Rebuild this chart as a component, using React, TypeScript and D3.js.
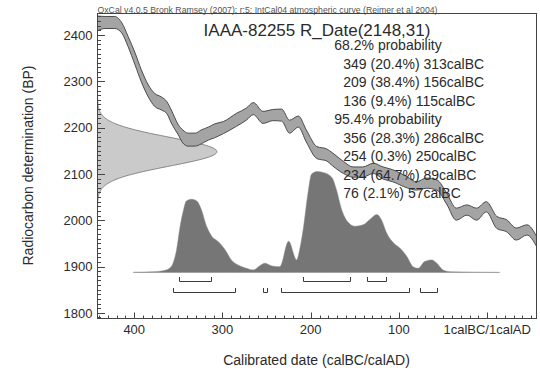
import React from "react";
import * as d3 from "d3";

// ---- Text content ----
const headerText =
  "OxCal v4.0.5 Bronk Ramsey (2007); r:5; IntCal04 atmospheric curve (Reimer et al 2004)";
const sampleName = "IAAA-82255 R_Date(2148,31)";
const rDateMean = 2148;
const rDateSigma = 31;

// ---- Calibration curve (IntCal04): calendar year BC, radiocarbon age BP, 1σ error ----
const curveYears = [
  442, 433, 422, 414, 407, 399, 392, 384, 377, 369, 363, 358, 350, 345, 339, 331, 324, 316, 309,
  299, 284, 273, 265, 254, 243, 233, 224, 214, 205, 193, 182, 175, 163, 152, 141, 129, 118, 107,
  91, 80, 69, 57, 46, 35, 23, 12, 1, -11, -22, -33, -45, -56,
];
const curveBP = [
  2425, 2427, 2427, 2415, 2386, 2348, 2312, 2279, 2260, 2252, 2243, 2224, 2195, 2181, 2174, 2174,
  2180, 2187, 2193, 2200, 2217, 2229, 2241, 2222, 2227, 2227, 2202, 2213, 2182, 2146, 2141, 2131,
  2114, 2104, 2104, 2112, 2102, 2096, 2082, 2074, 2080, 2076, 2047, 2013, 2022, 2013, 2029, 1995,
  1988, 1970, 1979, 1954,
];
const curveErr = [
  16, 13, 13, 11, 11, 13, 13, 13, 14, 14, 13, 14, 11, 14, 14, 14, 15, 14, 15, 13, 14, 13, 13, 13,
  12, 13, 14, 12, 13, 13, 13, 14, 13, 11, 11, 11, 13, 13, 12, 9, 11, 11, 12, 13, 11, 13, 11, 13,
  13, 13, 11, 11,
];

// ---- Calibrated probability distribution (relative to peak = 100) ----
const postYears = [
  401, 378, 367, 360, 356, 352, 348, 344, 341, 335, 329, 324, 318, 312, 305, 297, 290, 280, 273,
  265, 258, 252, 244, 235, 225, 216, 212, 208, 203, 199, 193, 186, 176, 171, 165, 157, 150, 140,
  133, 125, 120, 114, 106, 99, 91, 84, 78, 71, 63, 57, 50, 42, -14,
];
const postDensity = [
  0.3, 0.8, 1.8, 4.2, 9.2, 22.5, 45.8, 62.5, 70.8, 72.5, 70.8, 62.5, 45.8, 35.8, 30.8, 22.5, 12.5,
  6.5, 4.2, 2.5, 6.5, 9.2, 6.5, 5.8, 31, 12.5, 25, 45.8, 79.2, 97.5, 100, 99.2, 94.2, 82.5, 62.5,
  49.2, 45.8, 47.5, 52.5, 57.5, 52.5, 39.2, 29.2, 24.2, 15.8, 5.8, 4.2, 10.8, 12.5, 9.2, 2.5, 0.8,
  0.2,
];

// ---- Calibrated ranges ----
const range68From = [349, 209, 136];
const range68To = [313, 156, 115];
const range68Pct = ["20.4", "38.4", "9.4"];
const range95From = [356, 254, 234, 76];
const range95To = [286, 250, 89, 57];
const range95Pct = ["28.3", "0.3", "64.7", "2.1"];

// ---- Axis ticks ----
const xMajorTicks = [400, 300, 200, 100, 0];
const yMajorTicks = [1800, 1900, 2000, 2100, 2200, 2300, 2400];

const W = 540;
const H = 371;
const L = 97.5;
const R = 536.5;
const T = 13.5;
const B = 318.5;
const FONT = "'Liberation Sans', Arial, Helvetica, sans-serif";
const TEXT = "#2b2b2b";
const AXIS = "#444";

export default function App() {
  const x = d3.scaleLinear().domain([442.2, -56]).range([97, 536.6]);
  const y = d3.scaleLinear().domain([1800, 2400]).range([312.8, 35]);
  const yPost = d3.scaleLinear().domain([0, 100]).range([272.5, 171.6]);
  const likeW = d3.scaleLinear().domain([0, 1]).range([0, 119.4]);

  const idx = d3.range(curveYears.length);
  const band = d3
    .area<number>()
    .x((i) => x(curveYears[i]))
    .y0((i) => y(curveBP[i] - curveErr[i]))
    .y1((i) => y(curveBP[i] + curveErr[i]))
    .curve(d3.curveMonotoneX)(idx) as string;

  const pIdx = d3.range(postYears.length);
  const post = d3
    .area<number>()
    .x((i) => x(postYears[i]))
    .y0(yPost(0))
    .y1((i) => yPost(postDensity[i]))
    .curve(d3.curveMonotoneX)(pIdx) as string;

  // likelihood of the radiocarbon measurement, from its stated mean and sigma
  const likeBP = d3.range(rDateMean - 4 * rDateSigma, rDateMean + 4 * rDateSigma + 0.5, 1);
  const dens = (bp: number) => Math.exp(-0.5 * ((bp - rDateMean) / rDateSigma) ** 2);
  const likeArea = d3
    .area<number>()
    .y((bp) => y(bp))
    .x0(L)
    .x1((bp) => L + likeW(dens(bp)))(likeBP) as string;
  const likeLine = d3
    .line<number>()
    .y((bp) => y(bp))
    .x((bp) => L + likeW(dens(bp)))(likeBP) as string;

  const xMinor = d3.range(440, -56, -10);
  const yMinor = d3.range(1790, 2450, 10);

  const legendLines: { text: string; indent: boolean }[] = [];
  legendLines.push({ text: "68.2% probability", indent: false });
  range68From.forEach((f, i) =>
    legendLines.push({ text: `${f} (${range68Pct[i]}%) ${range68To[i]}calBC`, indent: true })
  );
  legendLines.push({ text: "95.4% probability", indent: false });
  range95From.forEach((f, i) =>
    legendLines.push({ text: `${f} (${range95Pct[i]}%) ${range95To[i]}calBC`, indent: true })
  );

  const bracket = (from: number, to: number, yLine: number, key: string) => {
    const x1 = Math.round(x(from)) + 0.5;
    const x2 = Math.round(x(to)) + 0.5;
    return (
      <path
        key={key}
        d={`M${x1},${yLine - 4.5}V${yLine}H${x2}V${yLine - 4.5}`}
        fill="none"
        stroke="#3a3a3a"
        strokeWidth={1}
      />
    );
  };

  return (
    <svg
      width={W}
      height={H}
      viewBox={`0 0 ${W} ${H}`}
      style={{ position: "absolute", left: 0, top: 0, background: "#fff" }}
      fontFamily={FONT}
    >
      <defs>
        <clipPath id="plotClip">
          <rect x={L} y={T} width={R - L} height={B - T} />
        </clipPath>
      </defs>

      <text x={L} y={13} fontSize={8.6} fill="#555" textLength={340} lengthAdjust="spacingAndGlyphs">
        {headerText}
      </text>

      <g clipPath="url(#plotClip)">
        <path d={likeArea} fill="#cacaca" stroke="none" />
        <path d={likeLine} fill="none" stroke="#7c7c7c" strokeWidth={0.9} />
        <path d={post} fill="#767676" stroke="#8a8a8a" strokeWidth={0.5} />
        <path d={band} fill="#a4a4a4" stroke="#4a4a4a" strokeWidth={1} />
      </g>

      {range68From.map((f, i) => bracket(f, range68To[i], 281.5, `b68-${i}`))}
      {range95From.map((f, i) => bracket(f, range95To[i], 292.5, `b95-${i}`))}

      {/* axis frame */}
      <rect x={L} y={T} width={R - L} height={B - T} fill="none" stroke={AXIS} strokeWidth={1} />

      {/* x ticks */}
      {xMinor.map((v) => (
        <line key={`xm${v}`} x1={Math.round(x(v)) + 0.5} x2={Math.round(x(v)) + 0.5} y1={B} y2={B - 3} stroke={AXIS} />
      ))}
      {xMajorTicks.map((v) => (
        <g key={`xM${v}`}>
          <line x1={Math.round(x(v)) + 0.5} x2={Math.round(x(v)) + 0.5} y1={B} y2={B - 6} stroke={AXIS} />
          <text x={x(v)} y={333.5} fontSize={13} textAnchor="middle" fill={TEXT}>
            {v === 0 ? "1calBC/1calAD" : String(v)}
          </text>
        </g>
      ))}

      {/* y ticks */}
      {yMinor.map((v) => (
        <line key={`ym${v}`} x1={L} x2={L + 3.5} y1={Math.round(y(v)) + 0.5} y2={Math.round(y(v)) + 0.5} stroke={AXIS} />
      ))}
      {yMajorTicks.map((v) => (
        <g key={`yM${v}`}>
          <line x1={L} x2={L + 7.5} y1={Math.round(y(v)) + 0.5} y2={Math.round(y(v)) + 0.5} stroke={AXIS} />
          <text x={92.5} y={y(v) + 4.7} fontSize={13} textAnchor="end" fill={TEXT}>
            {v}
          </text>
        </g>
      ))}

      {/* titles */}
      <text x={317} y={36} fontSize={17} textAnchor="middle" fill={TEXT}>
        {sampleName}
      </text>
      {legendLines.map((ln, i) => (
        <text key={`lg${i}`} x={ln.indent ? 343.3 : 334.3} y={50 + i * 18.56} fontSize={14} fill={TEXT}>
          {ln.text}
        </text>
      ))}

      <text x={316.5} y={365} fontSize={14} textAnchor="middle" fill={TEXT}>
        Calibrated date (calBC/calAD)
      </text>
      <text
        transform="translate(33,165.5) rotate(-90)"
        fontSize={14}
        textAnchor="middle"
        fill={TEXT}
      >
        Radiocarbon determination (BP)
      </text>
    </svg>
  );
}
